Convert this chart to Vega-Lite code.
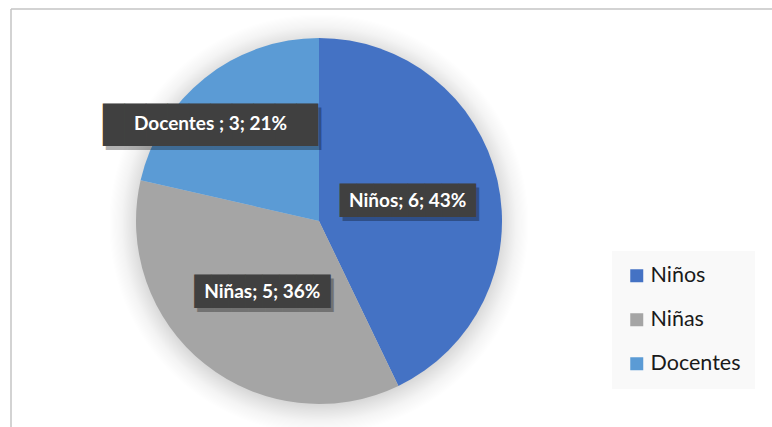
{
  "$schema": "https://vega.github.io/schema/vega-lite/v6.json",
  "width": 761,
  "height": 418,
  "padding": {"left": 11, "top": 9, "right": 0, "bottom": 0},
  "autosize": {"type": "none"},
  "background": "white",
  "config": {"view": {"stroke": null}, "font": "Lato"},
  "data": {
    "values": [
      {"categoria": "Niños", "valor": 6, "orden": 1, "etiqueta": "Niños; 6; 43%"},
      {"categoria": "Niñas", "valor": 5, "orden": 2, "etiqueta": "Niñas; 5; 36%"},
      {"categoria": "Docentes", "valor": 3, "orden": 3, "etiqueta": "Docentes ; 3; 21%"}
    ]
  },
  "layer": [
    {
      "transform": [{"filter": "datum.orden == 1"}],
      "mark": {"type": "rule", "stroke": "#C4C4C4", "strokeWidth": 1.5},
      "encoding": {"x": {"value": 0}}
    },
    {
      "transform": [{"filter": "datum.orden == 1"}],
      "mark": {"type": "rule", "stroke": "#C4C4C4", "strokeWidth": 1.5},
      "encoding": {"y": {"value": 0}}
    },
    {
      "transform": [{"filter": "datum.orden == 1"}],
      "mark": {
        "type": "arc", "x": 308, "y": 215, "radius": 210, "theta": 0, "theta2": 6.2832,
        "fill": {
          "gradient": "radial", "x1": 0.5, "y1": 0.5, "r1": 0, "x2": 0.5, "y2": 0.5, "r2": 0.5,
          "stops": [
            {"offset": 0, "color": "rgba(0,0,0,0.18)"},
            {"offset": 0.85, "color": "rgba(0,0,0,0.17)"},
            {"offset": 0.89, "color": "rgba(0,0,0,0.11)"},
            {"offset": 0.94, "color": "rgba(0,0,0,0.045)"},
            {"offset": 1, "color": "rgba(0,0,0,0)"}
          ]
        }
      },
      "encoding": {}
    },
    {
      "mark": {"type": "arc", "x": 308, "y": 212, "radius": 183},
      "encoding": {
        "theta": {"field": "valor", "type": "quantitative", "stack": true},
        "order": {"field": "orden", "type": "quantitative"},
        "color": {
          "field": "categoria", "type": "nominal",
          "scale": {"domain": ["Niños", "Niñas", "Docentes"], "range": ["#4472C4", "#A5A5A5", "#5B9BD5"]},
          "legend": {
            "title": null, "orient": "none", "legendX": 601, "legendY": 242, "direction": "vertical",
            "fillColor": "#F9F9F9", "padding": 14, "symbolType": "square", "symbolSize": 169,
            "symbolStrokeWidth": 0, "labelFontSize": 21.5, "labelFont": "Lato", "labelColor": "#1A1A1A",
            "rowPadding": 21, "labelOffset": 3
          }
        }
      }
    },
    {
      "mark": {"type": "text", "x": 308, "y": 212, "radius": 91, "font": "DejaVu Sans Mono", "fontSize": 28.25, "align": "center", "baseline": "middle", "dx": 3, "dy": 5.3, "fill": "black", "opacity": 0.3},
      "encoding": {
        "theta": {"field": "valor", "type": "quantitative", "stack": true},
        "order": {"field": "orden", "type": "quantitative"},
        "text": {"condition": {"test": "datum.categoria !== 'Docentes'", "value": "████████"}, "value": ""}
      }
    },
    {
      "mark": {"type": "text", "x": 308, "y": 212, "radius": 144, "font": "DejaVu Sans Mono", "fontSize": 35.7, "align": "center", "baseline": "middle", "dx": -15.7, "dy": 21.2, "fill": "black", "opacity": 0.3},
      "encoding": {
        "theta": {"field": "valor", "type": "quantitative", "stack": true},
        "order": {"field": "orden", "type": "quantitative"},
        "text": {"condition": {"test": "datum.categoria === 'Docentes'", "value": "██████████"}, "value": ""}
      }
    },
    {
      "mark": {"type": "text", "x": 308, "y": 212, "radius": 91, "font": "DejaVu Sans Mono", "fontSize": 28.25, "align": "center", "baseline": "middle", "dy": 1.3, "fill": "#404040"},
      "encoding": {
        "theta": {"field": "valor", "type": "quantitative", "stack": true},
        "order": {"field": "orden", "type": "quantitative"},
        "text": {"condition": {"test": "datum.categoria !== 'Docentes'", "value": "████████"}, "value": ""}
      }
    },
    {
      "mark": {"type": "text", "x": 308, "y": 212, "radius": 144, "font": "DejaVu Sans Mono", "fontSize": 35.7, "align": "center", "baseline": "middle", "dx": -18.7, "dy": 17.2, "fill": "#404040"},
      "encoding": {
        "theta": {"field": "valor", "type": "quantitative", "stack": true},
        "order": {"field": "orden", "type": "quantitative"},
        "text": {"condition": {"test": "datum.categoria === 'Docentes'", "value": "██████████"}, "value": ""}
      }
    },
    {
      "mark": {"type": "text", "x": 308, "y": 212, "radius": 91, "font": "Lato", "fontSize": 19, "fontWeight": "bold", "align": "center", "baseline": "middle", "fill": "white"},
      "encoding": {
        "theta": {"field": "valor", "type": "quantitative", "stack": true},
        "order": {"field": "orden", "type": "quantitative"},
        "text": {"condition": {"test": "datum.categoria !== 'Docentes'", "field": "etiqueta"}, "value": ""}
      }
    },
    {
      "mark": {"type": "text", "x": 308, "y": 212, "radius": 144, "font": "Lato", "fontSize": 19, "fontWeight": "bold", "align": "center", "baseline": "middle", "dx": -18.7, "dy": 15.6, "fill": "white"},
      "encoding": {
        "theta": {"field": "valor", "type": "quantitative", "stack": true},
        "order": {"field": "orden", "type": "quantitative"},
        "text": {"condition": {"test": "datum.categoria === 'Docentes'", "field": "etiqueta"}, "value": ""}
      }
    }
  ]
}
